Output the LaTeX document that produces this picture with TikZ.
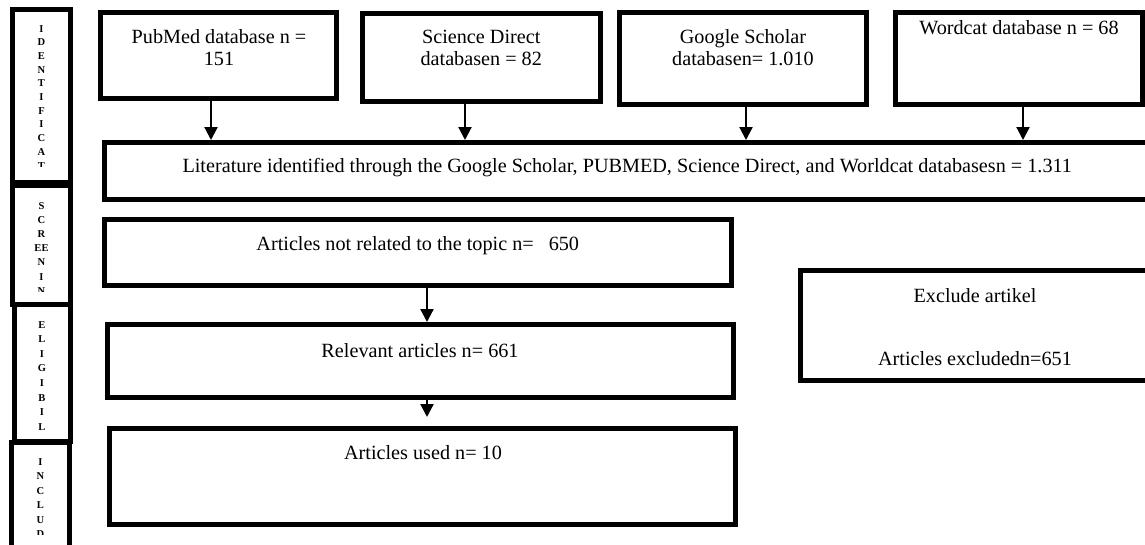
\documentclass[tikz,border=0pt]{standalone}
\usepackage{fontspec}
\setmainfont{Liberation Serif}
\usetikzlibrary{arrows.meta}
\begin{document}
\begin{tikzpicture}[x=1pt,y=-1pt,
  box/.style={draw, line width=5pt, inner sep=0pt},
  txt/.style={font=\fontsize{20.2}{22}\selectfont, inner sep=0pt, anchor=base},
  stg/.style={font=\bfseries\fontsize{10.5}{#1}\selectfont, align=center, inner sep=0pt, anchor=north},
  arr/.style={line width=2.2pt, -{Triangle[length=13pt,width=13pt]}}]
\useasboundingbox (0,0) rectangle (1145,544);
% stage column
\node[box, minimum width=58pt, minimum height=173pt] (sid) at (41.5,96) {};
\node[box, minimum width=58pt, minimum height=119pt] (ssc) at (41.5,245) {};
\node[box, minimum width=56pt, minimum height=136.5pt] (sel) at (42,372.75) {};
\node[box, minimum width=58pt, minimum height=118pt] (sin) at (40.5,501) {};
\begin{scope}
\clip (15,15) rectangle (68,166);
\node[stg=13.7] (tid) at (41.5,25) {I\\D\\E\\N\\T\\I\\F\\I\\C\\A\\T};
\end{scope}
\begin{scope}
\clip (15,188) rectangle (68,291);
\node[stg=14.2] (tsc) at (41.5,202) {S\\C\\R\\EE\\N\\I\\N};
\end{scope}
\begin{scope}
\clip (16,307) rectangle (68,437);
\node[stg=14.6] (tel) at (42,321) {E\\L\\I\\G\\I\\B\\I\\L};
\end{scope}
\begin{scope}
\clip (14,445) rectangle (67,534);
\node[stg=14.5] (tin) at (40.5,458) {I\\N\\C\\L\\U\\D};
\end{scope}
% database boxes
\node[box, minimum width=236pt, minimum height=86pt] (pub) at (218.75,55.5) {};
\node[box, minimum width=237.5pt, minimum height=88.5pt] (sd) at (481.25,57.25) {};
\node[box, minimum width=247pt, minimum height=92pt] (gs) at (743,58.5) {};
\node[box, minimum width=247pt, minimum height=92pt] (wc) at (1019,58.5) {};
\node[txt] (pub1) at (219,43) {PubMed database n =};
\node[txt] (pub2) at (219,65) {151};
\node[txt] (sd1) at (481.25,43) {Science Direct};
\node[txt] (sd2) at (481.25,65) {databasen = 82};
\node[txt] (gs1) at (743,43) {Google Scholar};
\node[txt] (gs2) at (743,65) {databasen= 1.010};
\node[txt] (wc1) at (1019,34) {Wordcat database n = 68};
% literature box
\node[box, minimum width=1045.5pt, minimum height=57pt] (lit) at (627.25,171) {};
\node[txt] (litt) at (627.25,172) {Literature identified through the Google Scholar, PUBMED, Science Direct, and Worldcat databasesn = 1.311};
% lower boxes
\node[box, minimum width=626.5pt, minimum height=65.5pt] (nr) at (417.75,252.25) {};
\node[txt] (nrt) at (417.75,250) {Articles not related to the topic n=\hspace{15pt}650};
\node[box, minimum width=626pt, minimum height=73pt] (rel) at (420.5,361) {};
\node[txt] (relt) at (420,357) {Relevant articles n= 661};
\node[box, minimum width=626pt, minimum height=96pt] (used) at (422.5,476.5) {};
\node[txt] (usedt) at (423,459) {Articles used n= 10};
\node[box, minimum width=350pt, minimum height=110pt] (excl) at (975,325.5) {};
\node[txt] (ex1) at (975,302) {Exclude artikel};
\node[txt] (ex2) at (975,365) {Articles excludedn=651};
% arrows
\coordinate (a1) at ([xshift=-7.75pt]pub.south);
\coordinate (a2) at ([xshift=-16.25pt]sd.south);
\coordinate (a3) at ([xshift=3pt]gs.south);
\coordinate (a4) at ([xshift=4pt]wc.south);
\coordinate (a5) at ([xshift=9.25pt]nr.south);
\coordinate (a6) at ([xshift=6.5pt]rel.south);
\coordinate (a6e) at ([yshift=9pt]used.north);
\draw[arr] (a1) -- (a1 |- lit.north);
\draw[arr] (a2) -- (a2 |- lit.north);
\draw[arr] (a3) -- (a3 |- lit.north);
\draw[arr] (a4) -- (a4 |- lit.north);
\draw[arr] (a5) -- (a5 |- rel.north);
\draw[arr] (a6) -- (a6 |- a6e);
\end{tikzpicture}
\end{document}
